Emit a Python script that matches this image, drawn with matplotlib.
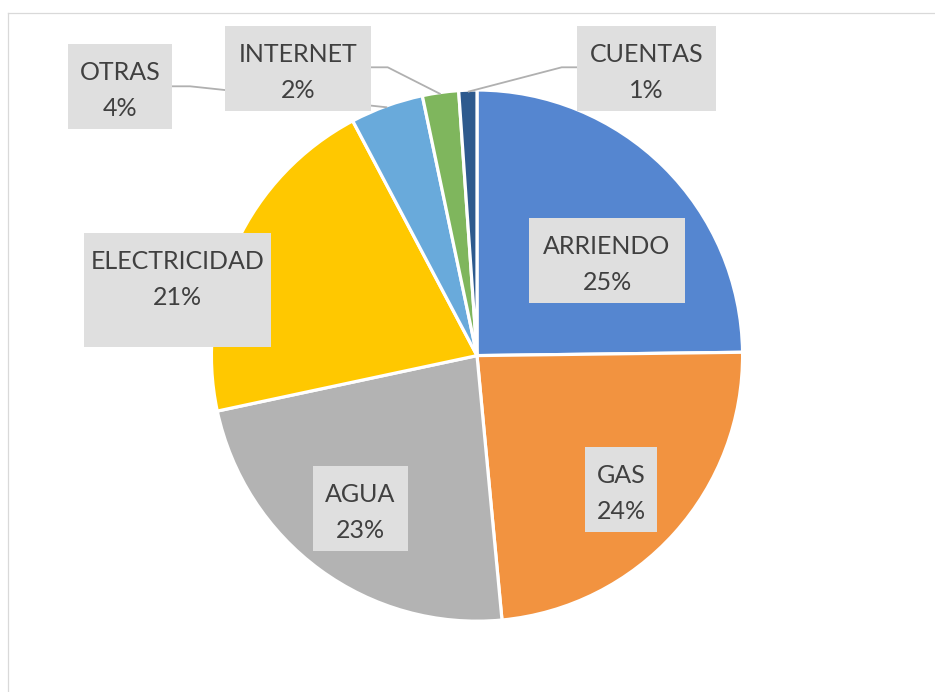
import matplotlib
matplotlib.use("Agg")
import matplotlib.pyplot as plt
import numpy as np
from matplotlib.patches import Rectangle
from matplotlib.lines import Line2D

# ---------------- data ----------------
categories = ["ARRIENDO", "GAS", "AGUA", "ELECTRICIDAD", "OTRAS", "INTERNET", "CUENTAS"]
values = [24.8, 23.7, 23.15, 20.6, 4.45, 2.2, 1.1]
colors = ["#5586D0", "#F29340", "#B3B3B3", "#FFC800", "#69AADB", "#7FB65D", "#2E5A8E"]

# ---------------- layout (pixels) ----------------
W, H, DPI = 935, 692, 100
CX, CY, R = 477.0, 355.6, 264.0   # pie centre and radius in pixels

# label boxes: left, top, right, bottom (pixels from top-left)
boxes = {
    "ARRIENDO": (529, 218.3, 685, 302.7),
    "GAS": (585, 446.7, 657, 531.7),
    "AGUA": (313.3, 466, 407.7, 550.7),
    "ELECTRICIDAD": (84, 232.7, 271, 346.7),
    "OTRAS": (68, 44, 172, 129),
    "INTERNET": (225, 26, 371, 110.7),
    "CUENTAS": (577.3, 25.7, 716, 111),
}
# leader lines: start point on box, elbow point (pixels)
leaders = {
    "OTRAS": ((172, 86.3), (190, 86.3)),
    "INTERNET": ((371, 67.3), (387.7, 67.3)),
    "CUENTAS": ((577.3, 67.3), (561.7, 67.3)),
}

def px(x, y):
    return (x - CX) / R, (CY - y) / R

fig = plt.figure(figsize=(W / DPI, H / DPI), dpi=DPI)
fig.patch.set_facecolor("white")
ax = fig.add_axes([0, 0, 1, 1])

wedges, _ = ax.pie(values, colors=colors, startangle=90, counterclock=False,
                   radius=1.006, wedgeprops=dict(edgecolor="white", linewidth=2.3))
for w in wedges:
    w.set_zorder(1)

ax.set_xlim(-CX / R, (W - CX) / R)
ax.set_ylim((CY - H) / R, CY / R)
ax.set_aspect("auto")
ax.axis("off")

total = sum(values)
TEXT_COLOR = "#404040"
BOX_COLOR = "#DFDFDF"
FONT = ["Lato", "DejaVu Sans"]

for cat, val, w in zip(categories, values, wedges):
    l, t, r, b = boxes[cat]
    x0, y0 = px(l, b)
    x1, y1 = px(r, t)
    ax.add_patch(Rectangle((x0, y0), x1 - x0, y1 - y0, facecolor=BOX_COLOR,
                           edgecolor="none", zorder=3))
    pct = int(val / total * 100 + 0.5)
    xc = (l + r) / 2
    ax.text(*px(xc, t + 36), cat, ha="center", va="baseline", fontsize=18,
            color=TEXT_COLOR, family=FONT, zorder=4)
    ax.text(*px(xc, t + 72), f"{pct}%", ha="center", va="baseline", fontsize=18,
            color=TEXT_COLOR, family=FONT, zorder=4)
    if cat in leaders:
        (sx, sy), (ex, ey) = leaders[cat]
        mid = np.deg2rad((w.theta1 + w.theta2) / 2)
        endx, endy = np.cos(mid) * 1.0, np.sin(mid) * 1.0
        p0 = px(sx, sy)
        p1 = px(ex, ey)
        ax.plot([p0[0], p1[0], endx], [p0[1], p1[1], endy], color="#B0B0B0",
                lw=1.3, zorder=2, solid_capstyle="butt")

# chart area border (left and top edges visible)
bx = 7.5 / W
by = 1 - 12.5 / H
fig.add_artist(Line2D([bx, bx], [0, by], transform=fig.transFigure, color="#D9D9D9", lw=0.9))
fig.add_artist(Line2D([bx, 1], [by, by], transform=fig.transFigure, color="#D9D9D9", lw=0.9))

fig.savefig("out.png", dpi=DPI, facecolor="white")
